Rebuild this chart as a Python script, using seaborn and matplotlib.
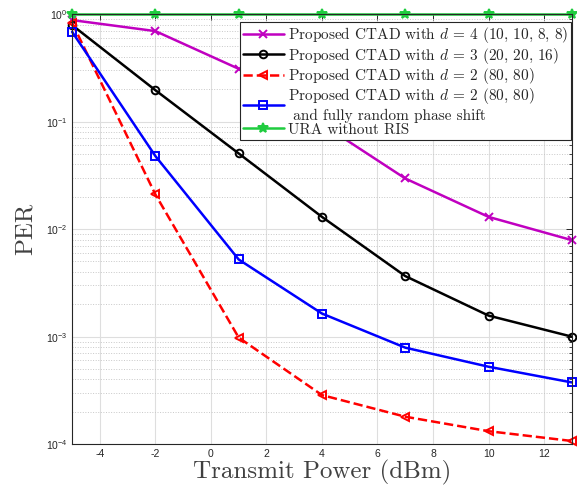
#import libraries
import numpy as np
import pandas as pd
import matplotlib
matplotlib.use('Agg')
import matplotlib.pyplot as plt
import seaborn as sns
from matplotlib.ticker import LogLocator, NullFormatter

sns.set_style('white')
plt.rcParams['font.family'] = ['Liberation Sans', 'DejaVu Sans']
plt.rcParams['mathtext.fontset'] = 'custom'
plt.rcParams['mathtext.rm'] = 'Liberation Sans'
plt.rcParams['mathtext.it'] = 'cmmi10'
plt.rcParams['axes.unicode_minus'] = False

#values
power = [-5, -2, 1, 4, 7, 10, 13]
per_d4 = [0.88, 0.695, 0.31, 0.095, 0.0296, 0.013, 0.0079]
per_d3 = [0.79, 0.196, 0.0506, 0.013, 0.00366, 0.00157, 0.001]
per_d2 = [0.83, 0.021, 0.00098, 0.000286, 0.00018, 0.000132, 0.000107]
per_d2_rand = [0.684, 0.0478, 0.00522, 0.00164, 0.00079, 0.000525, 0.000375]
per_ura = [1.0, 1.0, 1.0, 1.0, 1.0, 1.0, 1.0]

labels = ['Proposed CTAD with $d$ = 4 (10, 10, 8, 8)',
          'Proposed CTAD with $d$ = 3 (20, 20, 16)',
          'Proposed CTAD with $d$ = 2 (80, 80)',
          'Proposed CTAD with $d$ = 2 (80, 80)\n and fully random phase shift',
          'URA without RIS']

series = [per_d4, per_d3, per_d2, per_d2_rand, per_ura]
#style per curve: color, marker, linestyle, filled marker
styles = [('#c000c0', 'x', '-', False),
          ('black', 'o', '-', False),
          ('#ff0000', '<', '--', False),
          ('#0000ff', 's', '-', False),
          ('#1fcc3f', '*', '-', True)]

fig = plt.figure(figsize=(5.77, 4.87), dpi=100)
ax = fig.add_axes([0.125, 0.088, 0.866, 0.883])

for vals, lab, (col, mk, ls, filled) in zip(series, labels, styles):
    df = pd.DataFrame({'power': power, 'per': vals})
    sns.lineplot(data=df, x='power', y='per', ax=ax, color=col, marker=mk,
                 linestyle=ls, linewidth=1.8, markersize=7 if mk == '*' else 5.5,
                 markerfacecolor=col if filled else 'none',
                 markeredgecolor=col, markeredgewidth=1.4, label=lab, clip_on=False)

ax.set_yscale('log')
ax.set_xlim(-5, 13)
ax.set_ylim(1e-4, 1)
ax.set_xticks(range(-4, 13, 2))
ax.yaxis.set_major_locator(LogLocator(base=10, numticks=10))
ax.yaxis.set_minor_locator(LogLocator(base=10, subs=np.arange(2, 10), numticks=10))
ax.yaxis.set_minor_formatter(NullFormatter())

#matlab style grid and box
ax.grid(True, which='major', color='#dedede', linestyle='-', linewidth=0.8)
ax.grid(True, which='minor', axis='y', color='#c8c8c8', linestyle=':', linewidth=0.7)
ax.set_axisbelow(True)
ax.tick_params(which='both', direction='in', top=True, right=True,
               labelsize=7.5, labelcolor='#262626', color='#262626')
ax.tick_params(which='major', length=4, width=0.7)
ax.tick_params(which='minor', length=2.5, width=0.6)
for sp in ax.spines.values():
    sp.set_color('#262626')
    sp.set_linewidth(0.8)

ax.set_xlabel('Transmit Power (dBm)', family='cmr10', fontsize=18, color='#404040', labelpad=1)
ax.set_ylabel('PER', family='cmr10', fontsize=18, color='#404040', labelpad=6)

leg = ax.legend(loc='upper right', bbox_to_anchor=(0.999, 0.981), borderaxespad=0,
                fancybox=False, framealpha=1, edgecolor='#262626',
                prop={'family': 'cmr10', 'size': 11}, labelspacing=0.02,
                handlelength=2.7, handletextpad=0.25, borderpad=0.2)
leg.get_frame().set_linewidth(0.8)

fig.savefig('out.png', dpi=100)
